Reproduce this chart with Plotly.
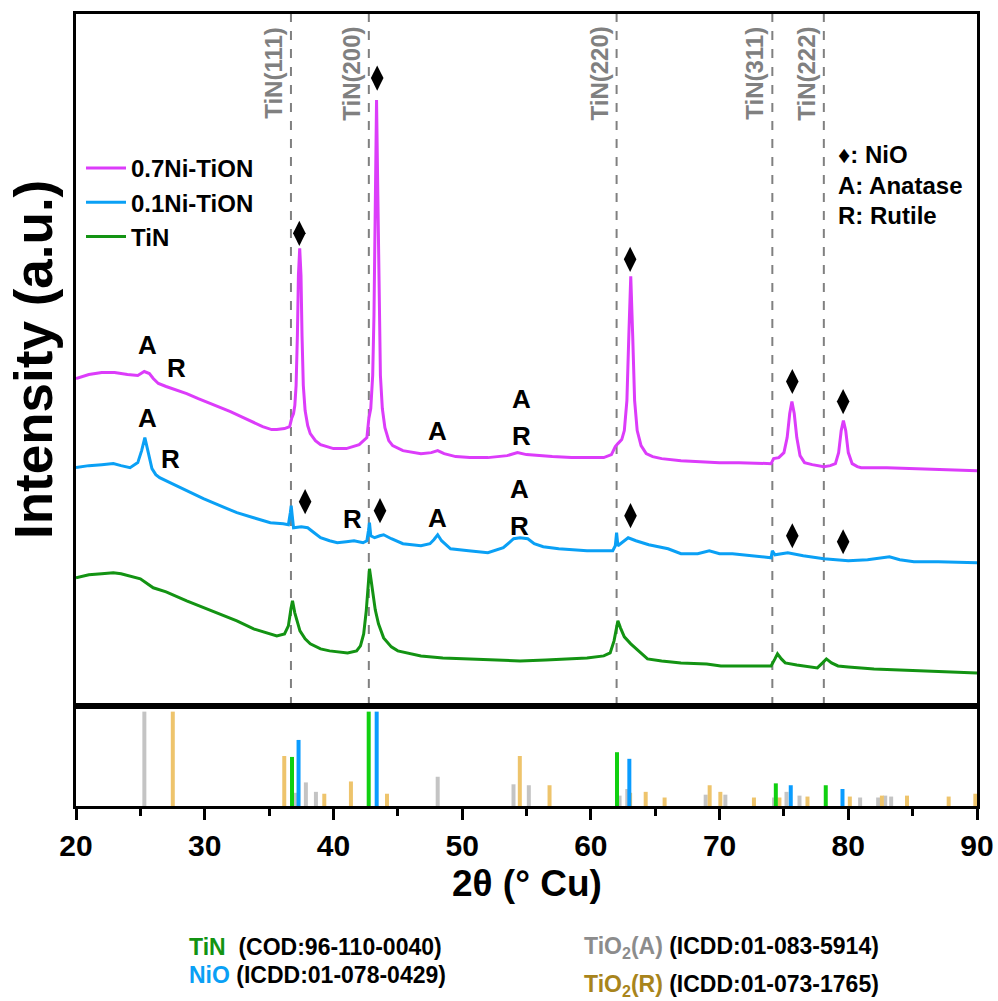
import plotly.graph_objects as go

# ---------------- data (intensity in a.u.) ----------------
mag_x = [20.0, 21.0, 22.0, 23.0, 24.0, 24.8, 25.3, 25.7, 26.0, 26.4, 27.0, 28.0, 28.6, 29.5, 30.5, 31.2,
         32.0, 33.0, 33.8, 34.5, 35.2, 35.6, 36.2, 36.6, 36.75, 36.9, 37.0, 37.1, 37.2, 37.28, 37.38, 37.48,
         37.56, 37.66, 37.8, 38.0, 38.2, 38.6, 39.0, 40.0, 41.0, 42.0, 42.6, 42.75, 42.9, 43.05, 43.15, 43.25,
         43.35, 43.45, 43.55, 43.65, 43.8, 44.0, 44.3, 44.6, 45.4, 46.8, 47.6, 48.1, 48.6, 49.5, 50.6, 52.0,
         53.5, 54.3, 55.0, 55.8, 57.0, 58.5, 60.0, 61.0, 61.6, 61.9, 62.1, 62.4, 62.6, 62.8, 62.95, 63.1,
         63.25, 63.4, 63.6, 63.9, 64.3, 64.8, 65.5, 67.0, 68.5, 70.0, 71.5, 73.0, 74.0, 74.2, 74.6, 75.0,
         75.25, 75.45, 75.62, 75.8, 76.0, 76.25, 76.6, 77.2, 78.1, 78.6, 79.0, 79.25, 79.45, 79.62, 79.8,
         80.0, 80.3, 80.7, 81.0, 83.0, 85.0, 87.0, 89.0, 90.0]
mag_y = [327, 331, 333, 333, 331, 330, 334, 332, 327, 322, 319, 315, 312, 307, 302, 298,
         294, 288, 283, 279, 276, 276, 277, 279, 287, 292, 300, 320, 370, 430, 457, 430,
         370, 320, 295, 280, 272, 265, 261, 257, 257, 261, 268, 287, 297, 330, 390, 510,
         605, 510, 390, 330, 297, 278, 265, 260, 255, 252, 253, 255, 252, 249, 248, 248,
         250, 253, 251, 250, 249, 248, 248, 248, 251, 259, 262, 266, 275, 305, 370, 429,
         370, 305, 275, 260, 252, 249, 247, 245, 244, 243, 243, 242, 242, 247, 248, 253,
         268, 292, 304, 292, 268, 250, 243, 241, 239, 240, 242, 253, 275, 285, 275,
         253, 242, 239, 238, 238, 237, 236, 235, 235]

blue_x = [20.0, 21.0, 22.0, 22.9, 23.5, 24.2, 24.8, 25.1, 25.35, 25.6, 25.9, 26.2, 26.5, 27.3, 28.1, 29.0,
          29.9, 31.0, 32.5, 33.8, 35.1, 36.1, 36.5, 36.65, 36.72, 36.8, 36.9, 37.5, 38.0, 38.5, 39.0, 39.7,
          40.3, 41.0, 41.6, 42.3, 42.6, 42.72, 42.8, 42.9, 43.2, 43.6, 43.9, 44.5, 45.4, 46.8, 47.5, 47.8,
          48.1, 48.4, 49.1, 50.5, 52.0, 53.2, 54.0, 54.5, 55.1, 55.6, 56.3, 57.5, 59.7, 61.7, 61.9, 62.0,
          62.1, 62.3, 62.9, 63.5, 64.5, 66.0, 67.0, 68.3, 69.2, 70.0, 71.0, 72.5, 74.0, 74.1, 74.3, 75.3,
          76.5, 78.1, 80.0, 81.5, 83.2, 84.0, 85.1, 87.0, 90.0]
blue_y = [238, 240, 241, 242, 240, 238, 243, 255, 268, 255, 237, 231, 228, 223, 218, 212,
          207, 201, 193, 188, 183, 182, 181, 193, 200, 190, 178, 179, 178, 173, 168, 165,
          163, 164, 165, 163, 165, 175, 183, 170, 168, 170, 171, 167, 162, 160, 162, 166,
          171, 165, 157, 155, 153, 158, 167, 168, 167, 162, 159, 157, 155, 155, 160, 173,
          160, 162, 168, 165, 161, 157, 152, 152, 155, 152, 152, 150, 148, 155, 151, 153,
          150, 147, 145, 146, 149, 146, 144, 144, 143]

green_x = [20.0, 21.0, 22.0, 22.9, 23.5, 24.2, 25.0, 26.0, 27.0, 28.6, 30.0, 31.2, 32.5, 33.8, 35.0, 35.6,
           36.2, 36.5, 36.7, 36.82, 37.0, 37.4, 37.8, 38.2, 39.0, 39.7, 41.1, 41.8, 42.1, 42.35, 42.55, 42.7,
           42.8, 42.9, 43.05, 43.25, 43.5, 43.9, 44.5, 45.0, 46.8, 48.5, 50.6, 52.5, 54.5, 56.5, 58.5, 59.7,
           61.0, 61.5, 61.8, 62.0, 62.1, 62.3, 62.6, 63.1, 63.8, 64.4, 65.5, 67.0, 69.0, 70.1, 72.0, 74.0,
           74.3, 74.5, 74.8, 75.1, 76.0, 77.6, 78.0, 78.3, 78.7, 79.2, 80.0, 82.0, 84.0, 86.0, 88.0, 90.0]
green_y = [128, 131, 132, 133, 132, 130, 127, 118, 114, 105, 98, 92, 85, 77, 72, 70,
           72, 80, 97, 105, 93, 75, 67, 62, 57, 55, 53, 55, 60, 72, 95, 125,
           137, 128, 112, 96, 82, 68, 59, 55, 50, 48, 47, 46, 45, 46, 47, 48,
           50, 53, 65, 80, 85, 78, 69, 62, 54, 47, 45, 43, 42, 40, 40, 40,
           47, 52, 47, 43, 41, 38, 43, 47, 43, 40, 39, 37, 36, 35, 34, 33]

series_names = ["0.7Ni-TiON", "0.1Ni-TiON", "TiN"]

# reference patterns (stick positions, relative intensity)
anatase_pos = [25.31, 37.03, 37.86, 38.64, 48.1, 53.99, 55.18, 62.23, 62.83, 68.92, 70.45, 74.23, 75.2,
               76.21, 80.92, 82.32, 82.87, 83.33]
anatase_int = [100, 14, 25, 15, 31, 23, 22, 11, 18, 12, 12, 9, 15, 11, 9, 9, 11, 10]
rutile_pos = [27.52, 36.18, 39.29, 41.36, 44.16, 54.48, 56.79, 63.05, 64.26, 65.73, 69.23, 70.06, 72.67,
              74.65, 76.83, 80.12, 82.61, 84.56, 87.8, 89.87]
rutile_int = [100, 53, 13, 26, 13, 53, 22, 14, 15, 9, 22, 15, 9, 9, 10, 10, 11, 11, 10, 13]
tin_pos = [36.78, 42.74, 62.03, 74.37, 78.25]
tin_int = [52, 100, 57, 24, 22]
nio_pos = [37.29, 43.36, 62.99, 75.53, 79.55]
nio_int = [70, 100, 50, 22, 18]

# TiN reflection guide lines
tin_lines = [36.7, 42.75, 62.0, 74.1, 78.1]
tin_labels = ["TiN(111)", "TiN(200)", "TiN(220)", "TiN(311)", "TiN(222)"]

# NiO markers (diamonds) above peaks
dia_mag_x = [37.35, 43.4, 63.05, 75.65, 79.6]
dia_mag_y = [472, 627, 446, 324, 304]
dia_blue_x = [37.8, 43.62, 63.08, 75.65, 79.6]
dia_blue_y = [204, 195, 190, 170, 164]

# phase letters
let_text = ["A", "R", "A", "R", "R", "A", "A", "R", "A", "A", "R"]
let_x = [25.52, 27.78, 25.52, 27.31, 41.47, 48.08, 54.46, 54.46, 48.08, 54.61, 54.61]
let_y = [360, 338, 288, 247, 187, 188, 217, 180, 275, 307, 270]

FONT = "Liberation Sans, Arial, sans-serif"
MAG = "#dc3cfa"
BLUE = "#0aa0f5"
GREEN = "#139313"

fig = go.Figure()

for xs, ys, nm, col in [(mag_x, mag_y, series_names[0], MAG),
                        (blue_x, blue_y, series_names[1], BLUE),
                        (green_x, green_y, series_names[2], GREEN)]:
    fig.add_trace(go.Scatter(x=xs, y=ys, name=nm, mode="lines",
                             line=dict(color=col, width=3), xaxis="x", yaxis="y"))


def sticks(pos, inten, color):
    xs, ys = [], []
    for p, v in zip(pos, inten):
        xs += [p, p, None]
        ys += [0, v, None]
    return go.Scatter(x=xs, y=ys, mode="lines", line=dict(color=color, width=4),
                      xaxis="x2", yaxis="y2", showlegend=False, hoverinfo="skip")


fig.add_trace(sticks(anatase_pos, anatase_int, "#c4c4c4"))
fig.add_trace(sticks(rutile_pos, rutile_int, "#eec46c"))
fig.add_trace(sticks(tin_pos, tin_int, "#10d010"))
fig.add_trace(sticks(nio_pos, nio_int, "#0a9cff"))

fig.add_trace(go.Scatter(x=dia_mag_x + dia_blue_x, y=dia_mag_y + dia_blue_y, mode="markers",
                         marker=dict(symbol="diamond-tall", size=18, color="black"),
                         showlegend=False, hoverinfo="skip", xaxis="x", yaxis="y"))

shapes = []
annotations = []
for xv, lab in zip(tin_lines, tin_labels):
    shapes.append(dict(type="line", xref="x", yref="y domain", x0=xv, x1=xv, y0=0, y1=1,
                       line=dict(color="#808080", width=2, dash="dash"), layer="below"))
    annotations.append(dict(x=xv, y=0.985, xref="x", yref="y domain", text=lab, showarrow=False,
                            textangle=-90, xanchor="right", yanchor="top", xshift=-2,
                            font=dict(family=FONT, size=24, color="#808080", weight="bold")))

for t, xv, yv in zip(let_text, let_x, let_y):
    annotations.append(dict(x=xv, y=yv, xref="x", yref="y", text=t, showarrow=False,
                            font=dict(family=FONT, size=26, color="black", weight="bold")))


def px(x):
    return (x - 76) / 901.0


def py(y):
    return (806 - y) / 792.0


for txt, yy in [("\u2666: NiO", 154), ("A: Anatase", 185), ("R: Rutile", 215)]:
    annotations.append(dict(x=px(836), y=py(yy), xref="paper", yref="paper", text=txt, showarrow=False,
                            xanchor="left", yanchor="middle",
                            font=dict(family=FONT, size=24, color="black", weight="bold")))

annotations.append(dict(x=px(33), y=py(360), xref="paper", yref="paper", text="Intensity (a.u.)",
                        showarrow=False, textangle=-90, xanchor="center", yanchor="middle",
                        font=dict(family=FONT, size=53, color="black", weight="bold")))
annotations.append(dict(x=px(527), y=py(884), xref="paper", yref="paper", text="2\u03b8 (\u00b0 Cu)",
                        showarrow=False, xanchor="center", yanchor="middle",
                        font=dict(family=FONT, size=37, color="black", weight="bold")))

bot = [
    ("<span style='color:#139313'>TiN</span>  (COD:96-110-0040)", 187, 947),
    ("<span style='color:#0aa0f5'>NiO</span> (ICDD:01-078-0429)", 187, 975),
    ("<span style='color:#8c8c8c'>TiO<sub>2</sub>(A)</span> (ICDD:01-083-5914)", 582, 947),
    ("<span style='color:#a8841c'>TiO<sub>2</sub>(R)</span> (ICDD:01-073-1765)", 582, 985),
]
for txt, xx, yy in bot:
    annotations.append(dict(x=px(xx), y=py(yy), xref="paper", yref="paper", text=txt, showarrow=False,
                            xanchor="left", yanchor="middle",
                            font=dict(family=FONT, size=23, color="black", weight="bold")))

split = 0.1263
axis_common = dict(showline=True, mirror=True, linecolor="black", linewidth=3,
                   showgrid=False, zeroline=False, automargin=False)

fig.update_layout(
    width=998, height=1001,
    margin=dict(l=76, r=21, t=14, b=195, autoexpand=False),
    paper_bgcolor="white", plot_bgcolor="white",
    font=dict(family=FONT, color="black"),
    xaxis=dict(domain=[0, 1], anchor="y", range=[20, 90], ticks="", showticklabels=False,
               matches="x2", **axis_common),
    yaxis=dict(domain=[split, 1], anchor="x", range=[0, 691], ticks="", showticklabels=False,
               **axis_common),
    xaxis2=dict(domain=[0, 1], anchor="y2", range=[20, 90], ticks="outside", ticklen=11, tickwidth=3,
                tickcolor="black", tick0=20, dtick=10,
                tickfont=dict(family=FONT, size=30, color="black", weight="bold"),
                minor=dict(ticks="outside", ticklen=7, tickwidth=3, tickcolor="black", dtick=5, tick0=20),
                **axis_common),
    yaxis2=dict(domain=[0, split], anchor="x2", range=[0, 106], ticks="", showticklabels=False,
                **axis_common),
    legend=dict(x=px(81), y=py(146), xanchor="left", yanchor="top", bgcolor="rgba(0,0,0,0)",
                font=dict(family=FONT, size=24, color="black", weight="bold"),
                itemwidth=40, tracegroupgap=0),
    showlegend=True,
    shapes=shapes,
    annotations=annotations,
)

fig.write_html("out.html")
